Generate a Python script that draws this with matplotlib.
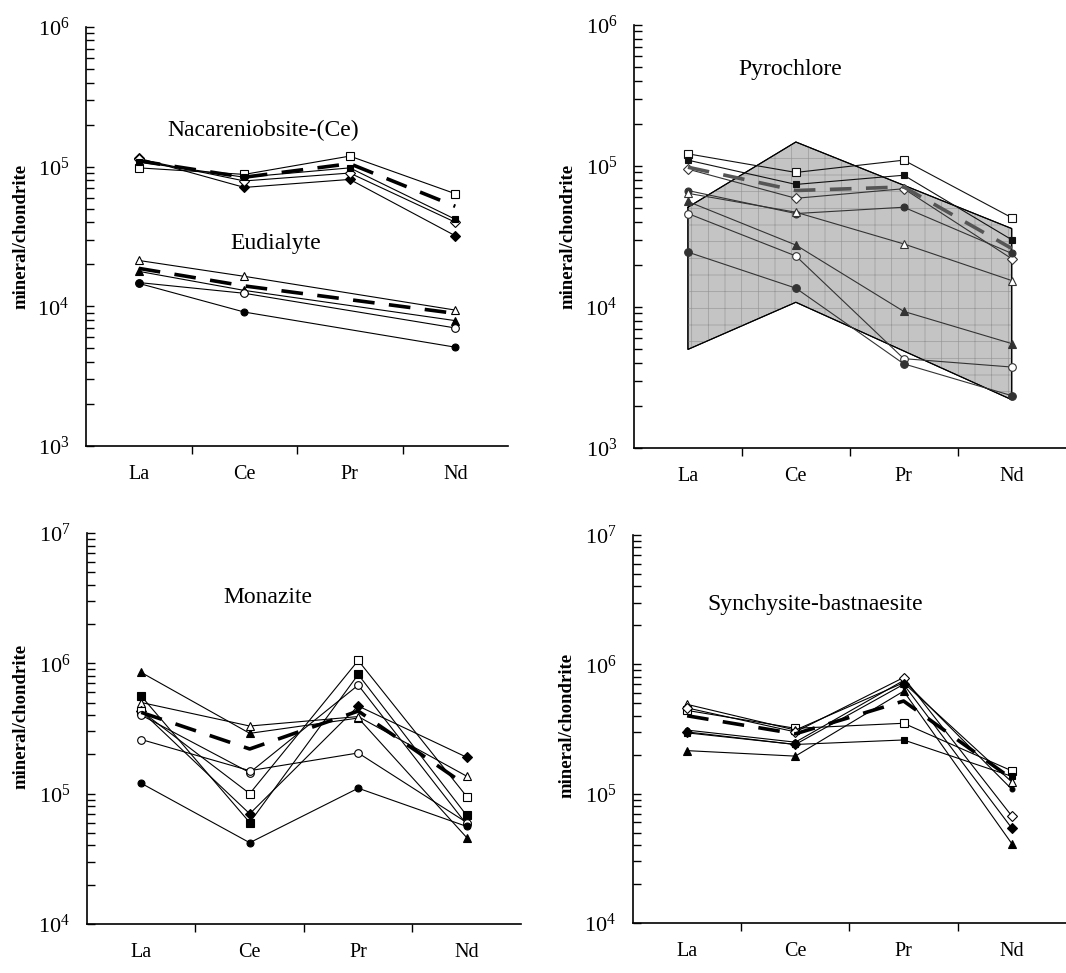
import numpy as np
import matplotlib
matplotlib.use("Agg")
import matplotlib.pyplot as plt
from matplotlib.ticker import LogLocator, NullFormatter, FixedLocator

plt.rcParams['font.family'] = ['Liberation Serif', 'DejaVu Serif']
plt.rcParams['mathtext.fontset'] = 'stix'
plt.rcParams['hatch.linewidth'] = 0.5

REE = ["La", "Ce", "Pr", "Nd"]

# ---------------- data (mineral/chondrite) ----------------
# Nacareniobsite-(Ce)
nac_sq_open = [9.8e4, 8.8e4, 1.19e5, 6.4e4]
nac_dia_fill = [1.15e5, 7.1e4, 8.1e4, 3.2e4]
nac_dia_open = [1.13e5, 7.9e4, 9.0e4, 4.0e4]
nac_sq_fill = [1.08e5, 8.4e4, 9.8e4, 4.2e4]
nac_mean = [1.1e5, 8.4e4, 1.05e5, 5.2e4]

# Eudialyte (no Pr)
eud_tri_open = [2.13e4, 1.64e4, None, 9.4e3]
eud_tri_fill = [1.78e4, 1.3e4, None, 7.9e3]
eud_circ_open = [1.48e4, 1.24e4, None, 7.0e3]
eud_circ_fill = [1.46e4, 9.1e3, None, 5.1e3]
eud_mean = [1.87e4, 1.4e4, None, 8.9e3]

# Pyrochlore
pyr_range_hi = [5.1e4, 1.48e5, 7.1e4, 3.6e4]
pyr_range_lo = [5.0e3, 1.08e4, 4.8e3, 2.2e3]
pyr_sq_open = [1.22e5, 9.0e4, 1.1e5, 4.3e4]
pyr_sq_fill = [1.1e5, 7.4e4, 8.6e4, 3.0e4]
pyr_dia_open = [9.5e4, 5.9e4, 6.9e4, 2.2e4]
pyr_dia_fill = [6.7e4, 4.6e4, 5.1e4, 2.4e4]
pyr_tri_open = [6.4e4, 4.7e4, 2.8e4, 1.54e4]
pyr_tri_fill = [5.6e4, 2.75e4, 9.3e3, 5.5e3]
pyr_circ_open = [4.6e4, 2.3e4, 4.3e3, 3.75e3]
pyr_circ_fill = [2.45e4, 1.36e4, 3.95e3, 2.35e3]
pyr_mean = [9.8e4, 6.7e4, 7.1e4, 2.6e4]

# Monazite
mon_tri_fill = [8.5e5, 2.9e5, 3.8e5, 4.6e4]
mon_sq_fill = [5.6e5, 6.0e4, 8.2e5, 6.8e4]
mon_tri_open = [5.0e5, 3.3e5, 3.9e5, 1.36e5]
mon_dia_fill = [4.3e5, 7.0e4, 4.7e5, 1.9e5]
mon_sq_open = [4.3e5, 1.0e5, 1.05e6, 9.5e4]
mon_circ_open1 = [4.0e5, 1.45e5, 6.8e5, 5.8e4]
mon_circ_open2 = [2.6e5, 1.5e5, 2.05e5, 6.0e4]
mon_circ_fill = [1.2e5, 4.2e4, 1.1e5, 5.6e4]
mon_mean = [4.2e5, 2.2e5, 4.3e5, 1.15e5]

# Synchysite-bastnaesite
syn_sq_open = [4.4e5, 3.2e5, 3.5e5, 1.5e5]
syn_sq_fill = [2.95e5, 2.4e5, 2.6e5, 1.36e5]
syn_tri_open = [4.9e5, 3.1e5, 7.2e5, 1.23e5]
syn_circ_fill = [3.1e5, 2.5e5, 7.5e5, 1.08e5]
syn_dia_open = [4.6e5, 3.0e5, 7.9e5, 6.7e4]
syn_dia_fill = [3.0e5, 2.4e5, 7.0e5, 5.4e4]
syn_tri_fill = [2.15e5, 1.95e5, 6.2e5, 4.1e4]
syn_mean = [4.0e5, 2.9e5, 5.2e5, 1.3e5]


###############################################################################
def draw_series(ax, vals, marker, filled, color="k", ms=5.5):
    x = [i for i, v in enumerate(vals) if v is not None]
    y = [v for v in vals if v is not None]
    ax.plot(x, y, color=color, lw=0.8, marker=marker, ms=ms,
            mfc=color if filled else "white", mec=color, mew=0.8, zorder=3)


def draw_mean(ax, vals, color="k"):
    x = [i for i, v in enumerate(vals) if v is not None]
    y = [v for v in vals if v is not None]
    ax.plot(x, y, color=color, lw=2.6, dashes=(6, 4), zorder=4)


def setup_axes(ax, ylo, yhi):
    ax.set_yscale("log")
    ax.set_ylim(ylo, yhi)
    ax.set_xlim(-0.5, 3.5)
    for s in ["top", "right"]:
        ax.spines[s].set_visible(False)
    ax.spines["left"].set_linewidth(1.2)
    ax.spines["bottom"].set_linewidth(1.2)
    ax.yaxis.set_major_locator(LogLocator(base=10, numticks=10))
    ax.yaxis.set_minor_locator(LogLocator(base=10, subs=np.arange(2, 10), numticks=20))
    ax.yaxis.set_minor_formatter(NullFormatter())
    ax.tick_params(axis="y", which="both", direction="in", length=6, width=1,
                   labelsize=16, pad=12)
    ax.xaxis.set_major_locator(FixedLocator([0.5, 1.5, 2.5]))
    ax.xaxis.set_major_formatter(NullFormatter())
    ax.set_xticks(range(4), REE, minor=True)
    ax.tick_params(axis="x", which="major", direction="out", length=6, width=1)
    ax.tick_params(axis="x", which="minor", length=0, labelsize=14.5, pad=14)
    ax.set_ylabel("mineral/chondrite", fontsize=13.5, fontweight="bold",
                  family=["Liberation Serif"])
###############################################################################


fig = plt.figure(figsize=(10.66, 9.73), dpi=100)
ax1 = fig.add_axes([0.0807, 0.5416, 0.3959, 0.4307])
ax2 = fig.add_axes([0.5947, 0.5396, 0.4050, 0.4347])
ax3 = fig.add_axes([0.0816, 0.0504, 0.4071, 0.4019])
ax4 = fig.add_axes([0.5938, 0.0514, 0.4062, 0.3988])

# ---- Nacareniobsite / Eudialyte
setup_axes(ax1, 1e3, 1e6)
draw_series(ax1, nac_sq_open, "s", False)
draw_series(ax1, nac_dia_fill, "D", True, ms=5)
draw_series(ax1, nac_dia_open, "D", False, ms=5)
draw_series(ax1, nac_sq_fill, "s", True, ms=4.5)
draw_mean(ax1, nac_mean)
draw_series(ax1, eud_tri_open, "^", False)
draw_series(ax1, eud_tri_fill, "^", True)
draw_series(ax1, eud_circ_open, "o", False)
draw_series(ax1, eud_circ_fill, "o", True, ms=5)
draw_mean(ax1, eud_mean)
ax1.text(0.42, 0.754, "Nacareniobsite-(Ce)", transform=ax1.transAxes,
         ha="center", va="center", fontsize=17)
ax1.text(0.45, 0.484, "Eudialyte", transform=ax1.transAxes,
         ha="center", va="center", fontsize=17)
ax1.yaxis.set_label_coords(-0.133, 0.5)

# ---- Pyrochlore
setup_axes(ax2, 1e3, 1e6)
px = [0, 1, 3, 3, 1, 0]
py = [pyr_range_hi[0], pyr_range_hi[1], pyr_range_hi[3],
      pyr_range_lo[3], pyr_range_lo[1], pyr_range_lo[0]]
ax2.fill(px, py, facecolor="#c4c4c4", edgecolor="k", lw=0.8, zorder=1)
ax2.fill(px, py, facecolor="none", edgecolor="#9a9a9a", hatch="+", lw=0, zorder=1.5)
ax2.plot(px + [px[0]], py + [py[0]], color="k", lw=0.8, zorder=2)
gc = "#333333"
draw_series(ax2, pyr_sq_open, "s", False, color="#111111")
draw_series(ax2, pyr_sq_fill, "s", True, color="#111111", ms=5)
draw_series(ax2, pyr_dia_open, "D", False, color=gc, ms=5)
draw_series(ax2, pyr_dia_fill, "o", True, color=gc, ms=5)
draw_series(ax2, pyr_tri_open, "^", False, color=gc)
draw_series(ax2, pyr_tri_fill, "^", True, color=gc)
draw_series(ax2, pyr_circ_open, "o", False, color=gc)
draw_series(ax2, pyr_circ_fill, "o", True, color=gc)
draw_mean(ax2, pyr_mean, color="#555555")
ax2.text(0.361, 0.894, "Pyrochlore", transform=ax2.transAxes,
         ha="center", va="center", fontsize=17)
ax2.yaxis.set_label_coords(-0.132, 0.5)

# ---- Monazite
setup_axes(ax3, 1e4, 1e7)
draw_series(ax3, mon_tri_fill, "^", True)
draw_series(ax3, mon_sq_fill, "s", True)
draw_series(ax3, mon_tri_open, "^", False)
draw_series(ax3, mon_dia_fill, "D", True, ms=5)
draw_series(ax3, mon_sq_open, "s", False)
draw_series(ax3, mon_circ_open1, "o", False)
draw_series(ax3, mon_circ_open2, "o", False)
draw_series(ax3, mon_circ_fill, "o", True, ms=5)
draw_mean(ax3, mon_mean)
ax3.text(0.417, 0.836, "Monazite", transform=ax3.transAxes,
         ha="center", va="center", fontsize=17)
ax3.yaxis.set_label_coords(-0.133, 0.53)

# ---- Synchysite-bastnaesite
setup_axes(ax4, 1e4, 1e7)
draw_series(ax4, syn_sq_open, "s", False)
draw_series(ax4, syn_sq_fill, "s", True, ms=5)
draw_series(ax4, syn_tri_open, "^", False)
draw_series(ax4, syn_circ_fill, "o", True, ms=3.5)
draw_series(ax4, syn_dia_open, "D", False, ms=5)
draw_series(ax4, syn_dia_fill, "D", True, ms=5)
draw_series(ax4, syn_tri_fill, "^", True)
draw_mean(ax4, syn_mean)
ax4.text(0.42, 0.822, "Synchysite-bastnaesite", transform=ax4.transAxes,
         ha="center", va="center", fontsize=17)
ax4.yaxis.set_label_coords(-0.132, 0.51)

fig.savefig("out.png", dpi=100)
